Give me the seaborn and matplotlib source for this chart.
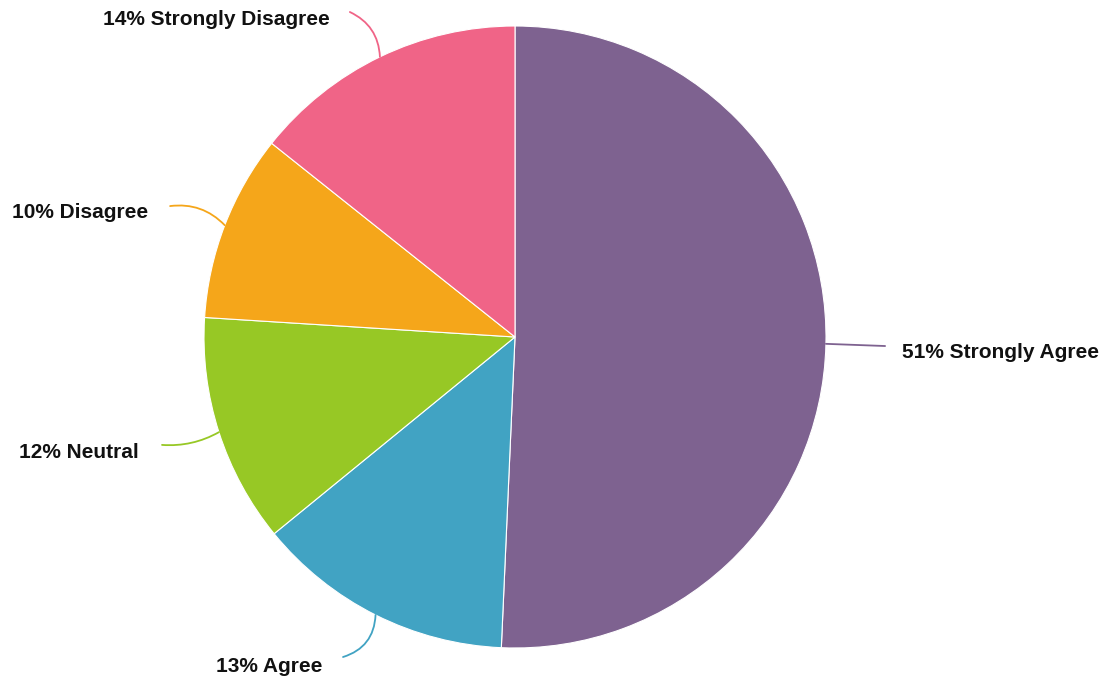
import matplotlib
matplotlib.use("Agg")
import matplotlib.pyplot as plt
import seaborn as sns
import numpy as np

# survey answers, clockwise from 12 o'clock
answers = ["Strongly Agree", "Agree", "Neutral", "Disagree", "Strongly Disagree"]
shares = [50.7, 13.4, 11.9, 9.7, 14.3]
shown_pct = [51, 13, 12, 10, 14]
slice_colors = ["#7E6290", "#41A3C3", "#97C825", "#F5A61A", "#F06487"]

sns.set_theme(style="white")
plt.rcParams['font.family'] = ['Liberation Sans', 'DejaVu Sans']

fig = plt.figure(figsize=(11.08, 6.8), dpi=100)
ax = fig.add_axes([0, 0, 1, 1])
ax.set_axis_off()

palette = sns.color_palette(slice_colors)
wedges, _ = ax.pie(shares, colors=palette, startangle=90, counterclock=False,
                   radius=1.0, center=(0, 0),
                   wedgeprops=dict(edgecolor="white", linewidth=0.8))

# pixel based frame: centre at (515, 337), radius 311 px
R = 311.0
ax.set_xlim(-515 / R, (1108 - 515) / R)
ax.set_ylim(-(680 - 337) / R, 337 / R)
ax.set_aspect("equal")

# label end point of leader, text anchor, alignment, curve
label_spots = {
    "Strongly Agree": ((1.19, -0.029), (1.245, -0.05), "left", 0.0),
    "Agree": ((-0.553, -1.029), (-0.62, -1.06), "right", 0.35),
    "Neutral": ((-1.135, -0.347), (-1.21, -0.372), "right", 0.15),
    "Disagree": ((-1.109, 0.421), (-1.18, 0.40), "right", -0.25),
    "Strongly Disagree": ((-0.531, 1.045), (-0.595, 1.02), "right", -0.3),
}

for w, name, pct, col in zip(wedges, answers, shown_pct, palette):
    mid = np.deg2rad((w.theta1 + w.theta2) / 2)
    edge = (np.cos(mid), np.sin(mid))
    end, txt, ha, rad = label_spots[name]
    ax.annotate("", xy=edge, xytext=end,
                arrowprops=dict(arrowstyle="-", color=col, lw=1.3,
                                shrinkA=0, shrinkB=0,
                                connectionstyle=f"arc3,rad={rad}"))
    ax.text(txt[0], txt[1], f"{pct}% {name}", ha=ha, va="center",
            fontsize=15, fontweight="bold", color="#111111")

fig.savefig("out.png", dpi=100)
